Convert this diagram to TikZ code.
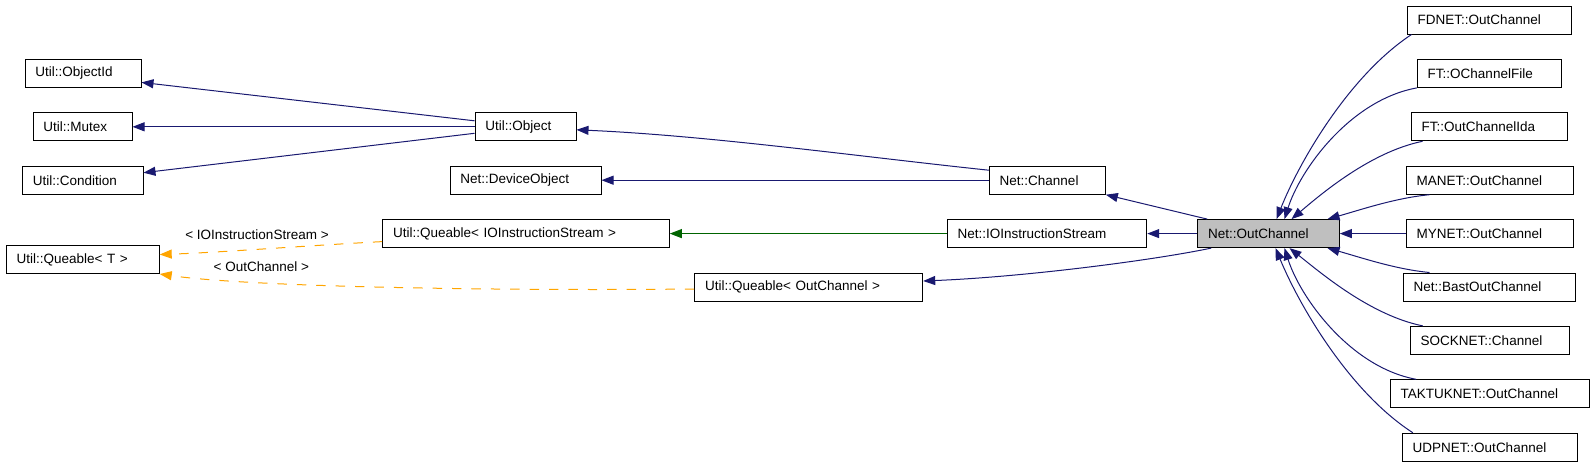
\documentclass[tikz,border=0pt]{standalone}
\usepackage{fontspec}
\setmainfont{Liberation Sans}
\usetikzlibrary{arrows.meta,calc}
\definecolor{navy}{RGB}{25,25,112}
\definecolor{dgreen}{RGB}{0,100,0}
\definecolor{orng}{RGB}{255,165,0}
\definecolor{selgray}{RGB}{191,191,191}
\tikzset{
  cls/.style={draw=black, line width=0.5pt, fill=white, font=\fontsize{6.75}{8}\selectfont,
    inner xsep=5.2pt, inner ysep=0pt, minimum height=14pt, align=left, anchor=center},
  lbl/.style={font=\fontsize{6.75}{8}\selectfont, inner sep=0pt},
  tip/.style={-{Triangle[length=6pt,width=4.5pt]}},
  inh/.style={tip, draw=navy, line width=0.5pt},
  grn/.style={tip, draw=dgreen, line width=0.5pt},
  tpl/.style={tip, draw=orng, line width=0.5pt, dash pattern=on 4.7pt off 5pt}
}
\begin{document}
\begin{tikzpicture}[x=0.5pt,y=-0.5pt]
\useasboundingbox (0,0) rectangle (1595,467);
% left column
\node[cls, text width=47.6pt] (objid) at (83,73.4) {Util::ObjectId};
\node[cls, text width=39.1pt] (mutex) at (82.5,126.8) {Util::Mutex};
\node[cls, text width=49.85pt] (cond) at (82.75,180.2) {Util::Condition};
\node[cls, text width=66.1pt] (qT) at (82.7,259.5) {Util::Queable\textless{} T \textgreater};
% middle
\node[cls, text width=40.1pt] (uobj) at (525.5,126.8) {Util::Object};
\node[cls, text width=65.1pt] (devobj) at (525.5,180.2) {Net::DeviceObject};
\node[cls, text width=132.9pt] (qIO) at (526,233.6) {Util::Queable\textless{} IOInstructionStream \textgreater};
\node[cls, text width=103.6pt] (qOC) at (808.7,287) {Util::Queable\textless{} OutChannel \textgreater};
\node[cls, text width=47.6pt] (chan) at (1047.3,180.2) {Net::Channel};
\node[cls, text width=89.3pt] (ios) at (1047,233.6) {Net::IOInstructionStream};
\node[cls, text width=60.4pt, fill=selgray] (outch) at (1268.5,233.6) {Net::OutChannel};
% right column
\node[cls, text width=71.8pt] (fdnet) at (1489.5,20) {FDNET::OutChannel};
\node[cls, text width=61.6pt] (ftfile) at (1489.3,73.4) {FT::OChannelFile};
\node[cls, text width=67.6pt] (ftida) at (1489.3,126.8) {FT::OutChannelIda};
\node[cls, text width=73.1pt] (manet) at (1489.8,180.2) {MANET::OutChannel};
\node[cls, text width=73.1pt] (mynet) at (1489.8,233.6) {MYNET::OutChannel};
\node[cls, text width=75.8pt] (bast) at (1489.5,287) {Net::BastOutChannel};
\node[cls, text width=69.1pt] (sock) at (1489.8,340.4) {SOCKNET::Channel};
\node[cls, text width=89.1pt] (tak) at (1489.8,393.8) {TAKTUKNET::OutChannel};
\node[cls, text width=77.1pt] (udp) at (1489.8,447.2) {UDPNET::OutChannel};
% labels
\node[lbl] (lab1) at (257,235) {\textless{} IOInstructionStream \textgreater};
\node[lbl] (lab2) at (261.3,266.7) {\textless{} OutChannel \textgreater};
% edges
\draw[inh] ($(uobj.west)+(0,-6)$) -- ($(objid.east)+(0,9)$);
\draw[inh] (uobj.west) -- (mutex.east);
\draw[inh] ($(uobj.west)+(0,6.5)$) -- ($(cond.east)+(0,-7.5)$);
\draw[inh] ($(chan.west)+(0,-10)$) .. controls (859,156.5) and (708,135.5) .. ($(uobj.east)+(0,3)$);
\draw[inh] (chan.west) -- (devobj.east);
\draw[inh] ($(outch.north west)+(10,0)$) -- (chan.south east);
\draw[inh] (outch.west) -- (ios.east);
\draw[grn] (ios.west) -- (qIO.east);
\draw[inh] ($(outch.south west)+(14,0)$) .. controls (1152,260.5) and (1023,277) .. ($(qOC.east)+(0,-6)$);
\draw[tpl] ($(qIO.west)+(0,8)$) .. controls (300,246) and (220,252.5) .. ($(qT.east)+(0,-5)$);
\draw[tpl] ($(qOC.west)+(0,2)$) .. controls (500,291) and (250,287) .. (qT.south east);
% right column edges
\draw[inh] ($(fdnet.south west)+(4.7,0)$) .. controls (1350,75) and (1300,160) .. ($(outch.north west)+(79.3,0)$);
\draw[inh] (ftfile.south west) .. controls (1350,100) and (1300,170) .. ($(outch.north west)+(87.3,0)$);
\draw[inh] ($(ftida.south west)+(11.7,0)$) .. controls (1370,152) and (1320,195) .. ($(outch.north west)+(94.3,0)$);
\draw[inh] ($(manet.south west)+(23.7,0)$) .. controls (1395,198) and (1360,210) .. ($(outch.north west)+(130.3,0)$);
\draw[inh] (mynet.west) -- (outch.east);
\draw[inh] ($(bast.north west)+(26.7,0)$) .. controls (1395,269.2) and (1360,257.2) .. ($(outch.south west)+(130.3,0)$);
\draw[inh] ($(sock.north west)+(13,0)$) .. controls (1370,315.2) and (1320,272.2) .. ($(outch.south west)+(92.3,0)$);
\draw[inh] ($(tak.north west)+(26.4,0)$) .. controls (1350,367.2) and (1300,297.2) .. ($(outch.south west)+(87.3,0)$);
\draw[inh] ($(udp.north west)+(11,0)$) .. controls (1350,392.2) and (1300,307.2) .. ($(outch.south west)+(78.3,0)$);
\end{tikzpicture}
\end{document}
